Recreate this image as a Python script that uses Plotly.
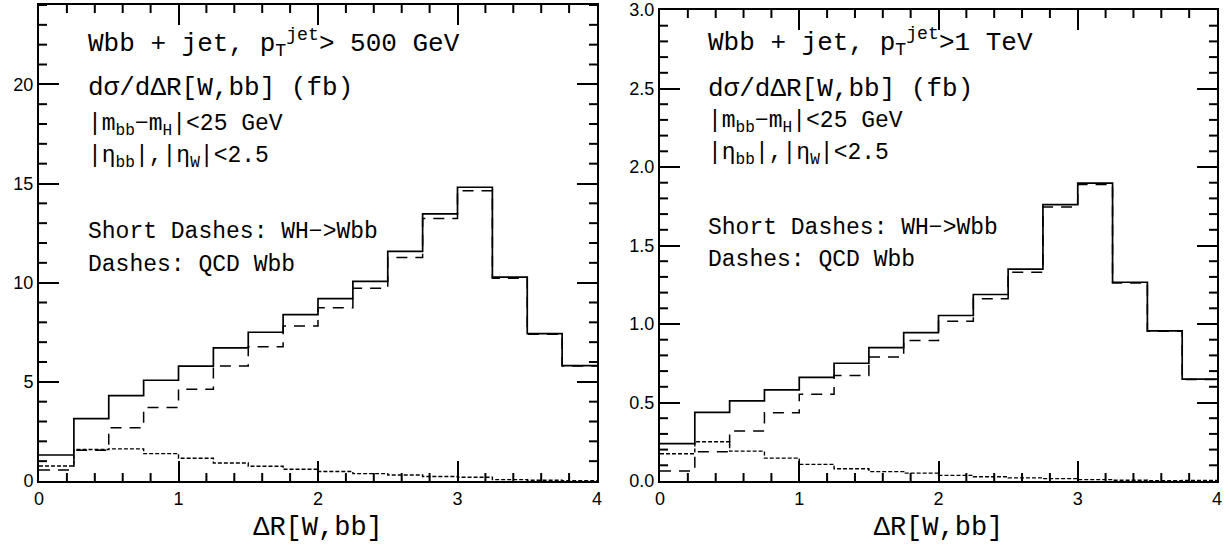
import numpy as np
import plotly.graph_objects as go
from plotly.subplots import make_subplots

# bin edges in Delta R[W,bb]
edges = [0.0, 0.25, 0.5, 0.75, 1.0, 1.25, 1.5, 1.75, 2.0,
         2.25, 2.5, 2.75, 3.0, 3.25, 3.5, 3.75, 4.0]

# pT(jet) > 500 GeV  (fb)
left_total = [1.31, 3.15, 4.30, 5.08, 5.79, 6.71, 7.50, 8.39,
              9.20, 10.07, 11.58, 13.47, 14.81, 10.28, 7.43, 5.82]
left_qcd = [0.55, 1.55, 2.69, 3.70, 4.62, 5.80, 6.77, 7.81,
            8.73, 9.72, 11.27, 13.24, 14.64, 10.22, 7.40, 5.80]
left_wh = [0.76, 1.59, 1.62, 1.38, 1.15, 0.91, 0.74, 0.59,
           0.48, 0.37, 0.30, 0.23, 0.19, 0.07, 0.04, 0.02]

# pT(jet) > 1 TeV  (fb)
right_total = [0.238, 0.437, 0.51, 0.58, 0.66, 0.75, 0.85, 0.945,
               1.054, 1.188, 1.35, 1.76, 1.897, 1.266, 0.956, 0.649]
right_qcd = [0.064, 0.186, 0.318, 0.434, 0.553, 0.672, 0.79, 0.895,
             1.018, 1.161, 1.33, 1.745, 1.888, 1.261, 0.954, 0.646]
right_wh = [0.174, 0.25, 0.19, 0.146, 0.106, 0.078, 0.06, 0.05,
            0.036, 0.027, 0.02, 0.015, 0.009, 0.005, 0.002, 0.003]

x_range = [0, 4]
y_range_left = [0, 24]
y_range_right = [0, 3]

W, H = 1229, 549
ML, MR, MT, MB = 39, 12, 5, 68
PW, PH = W - ML - MR, H - MT - MB

MONO = "Liberation Mono"
SANS = "Liberation Sans"


def px_x(x):
    return (x - ML) / PW


def px_y(y):
    return 1 - (y - MT) / PH


def step(vals):
    return list(vals) + [vals[-1]]


fig = make_subplots(rows=1, cols=2)

styles = [("solid", 1.7), ("11px,8px", 1.5), ("4px,2px", 1.4)]
for col, series in ((1, (left_total, left_qcd, left_wh)),
                    (2, (right_total, right_qcd, right_wh))):
    for vals, (dash, w) in zip(series, styles):
        fig.add_trace(go.Scatter(x=edges, y=step(vals), mode="lines",
                                 line=dict(shape="hv", color="black", dash=dash, width=w),
                                 showlegend=False, hoverinfo="skip"),
                      row=1, col=col)

fig.update_xaxes(
    showline=True, linecolor="black", linewidth=2, mirror="allticks",
    ticks="inside", ticklen=20, tickwidth=2, tickcolor="black",
    showgrid=False, zeroline=False, automargin=False,
    tickfont=dict(family=SANS, size=18, color="black"),
    range=x_range, dtick=1,
    title=dict(text="ΔR[W,bb]", font=dict(family=MONO, size=27, color="black"), standoff=9),
)
fig.update_yaxes(
    showline=True, linecolor="black", linewidth=2, mirror="allticks",
    ticks="inside", ticklen=20, tickwidth=2, tickcolor="black",
    showgrid=False, zeroline=False, automargin=False,
    tickfont=dict(family=SANS, size=18, color="black"),
)
fig.update_yaxes(range=y_range_left, dtick=5, row=1, col=1)
fig.update_yaxes(range=y_range_right, dtick=0.5, tickformat=".1f", row=1, col=2)

x_dom = [[0, px_x(597)], [px_x(660), 1]]
y_dom = [[0, 1], [0, px_y(10)]]

fig.update_layout(
    width=W, height=H,
    margin=dict(l=ML, r=MR, t=MT, b=MB),
    paper_bgcolor="white", plot_bgcolor="white",
    xaxis=dict(domain=x_dom[0]), xaxis2=dict(domain=x_dom[1]),
    yaxis=dict(domain=y_dom[0]), yaxis2=dict(domain=y_dom[1]),
)

# minor ticks, 8 px long, on all four sides of each frame
MINOR = 8
lx, ly = MINOR / PW, MINOR / PH
panels = [("x", "y", y_range_left, 1.0, 5.0), ("x2", "y2", y_range_right, 0.1, 0.5)]
for (xa, ya, yr, ystep, ymajor), xd, yd in zip(panels, x_dom, y_dom):
    xs = [round(float(v), 4) for v in np.arange(x_range[0], x_range[1] + 1e-9, 0.2)
          if abs(v - round(v)) > 1e-6]
    for v in xs:
        for y0, y1 in ((yd[0], yd[0] + ly), (yd[1], yd[1] - ly)):
            fig.add_shape(type="line", x0=v, x1=v, y0=y0, y1=y1, xref=xa, yref="paper",
                          line=dict(color="black", width=2))
    ys = [round(float(v), 4) for v in np.arange(yr[0], yr[1] + 1e-9, ystep)
          if abs(v / ymajor - round(v / ymajor)) > 1e-6]
    for v in ys:
        for x0, x1 in ((xd[0], xd[0] + lx), (xd[1], xd[1] - lx)):
            fig.add_shape(type="line", x0=x0, x1=x1, y0=v, y1=v, xref="paper", yref=ya,
                          line=dict(color="black", width=2))

labels = [
    # (x px, y px, text, size)
    (86, 43, "Wbb + jet, p<sub>T</sub><sup>jet</sup>> 500 GeV", 26),
    (86, 88, "dσ/dΔR[W,bb] (fb)", 26),
    (86, 125, "|m<sub>bb</sub>−m<sub>H</sub>|<25 GeV", 23),
    (86, 158, "|η<sub>bb</sub>|,|η<sub>W</sub>|<2.5", 23),
    (86, 232, "Short Dashes: WH−>Wbb", 23),
    (86, 265, "Dashes: QCD Wbb", 23),
    (706, 42, "Wbb + jet, p<sub>T</sub><sup>jet</sup>>1 TeV", 26),
    (706, 89, "dσ/dΔR[W,bb] (fb)", 26),
    (706, 122, "|m<sub>bb</sub>−m<sub>H</sub>|<25 GeV", 23),
    (706, 154, "|η<sub>bb</sub>|,|η<sub>W</sub>|<2.5", 23),
    (706, 228, "Short Dashes: WH−>Wbb", 23),
    (706, 260, "Dashes: QCD Wbb", 23),
]
for x, y, text, size in labels:
    fig.add_annotation(x=px_x(x), y=px_y(y), xref="paper", yref="paper",
                       xanchor="left", yanchor="middle", showarrow=False,
                       text=text, font=dict(family=MONO, size=size, color="black"))

fig.write_html("out.html", config={"displayModeBar": False},
               post_script="document.body.style.margin='0';")
